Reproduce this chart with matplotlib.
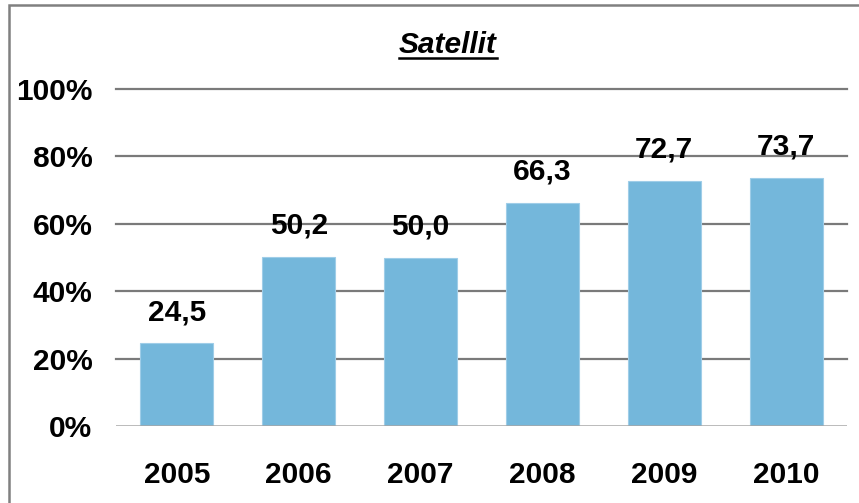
import matplotlib
matplotlib.use('Agg')
import matplotlib.pyplot as plt
from matplotlib.patches import Rectangle
from matplotlib.lines import Line2D

years = ['2005', '2006', '2007', '2008', '2009', '2010']
values = [24.5, 50.2, 50.0, 66.3, 72.7, 73.7]
labels = ['24,5', '50,2', '50,0', '66,3', '72,7', '73,7']
yticks = [0, 20, 40, 60, 80, 100]

plt.rcParams['font.family'] = ['Liberation Sans', 'DejaVu Sans']
plt.rcParams['font.weight'] = 'bold'
FS = 21.5

W, H = 859, 503
fig = plt.figure(figsize=(W / 100, H / 100), dpi=100)
ax = fig.add_axes([116 / W, 1 - 426 / H, (847 - 116) / W, (426 - 89) / H])

x = list(range(len(years)))
ax.bar(x, values, width=0.6, color='#74B7DB', edgecolor='#9FCDE8', linewidth=0.8, zorder=3)

for xi, v, lab in zip(x, values, labels):
    ax.annotate(lab, (xi, v), xytext=(0, 12.5), textcoords='offset points',
                ha='center', va='bottom', fontsize=FS, fontweight='bold', zorder=5)

ax.set_xlim(-0.5, 5.5)
ax.set_ylim(0, 100)
ax.set_yticks(yticks)
ax.set_yticklabels([f'{t}%' for t in yticks], fontsize=FS, fontweight='bold')
ax.set_xticks(x)
ax.set_xticklabels(years, fontsize=FS, fontweight='bold')
ax.tick_params(axis='y', length=0, pad=17)
ax.tick_params(axis='x', length=0, pad=25)

for t in yticks[1:]:
    ax.axhline(t, color='#7a7a7a', linewidth=1.6, zorder=1, clip_on=False)
ax.axhline(0, color='#a6a6a6', linewidth=1.8, zorder=4)
for s in ax.spines.values():
    s.set_visible(False)

# title with underline
title = fig.text(448 / W, 1 - 45 / H, 'Satellit', ha='center', va='center',
                 fontsize=FS, fontweight='bold', style='italic')
fig.canvas.draw()
bb = title.get_window_extent(fig.canvas.get_renderer())
fig.add_artist(Line2D([bb.x0 / W, bb.x1 / W], [1 - 58 / H, 1 - 58 / H],
                      color='black', linewidth=1.8))

# chart area border (cut off on right and bottom)
fig.add_artist(Rectangle((9 / W, -0.05), 1.1, 1 - 5 / H + 0.05, fill=False,
                         edgecolor='#808080', linewidth=1.8))

fig.savefig('out.png', dpi=100)
